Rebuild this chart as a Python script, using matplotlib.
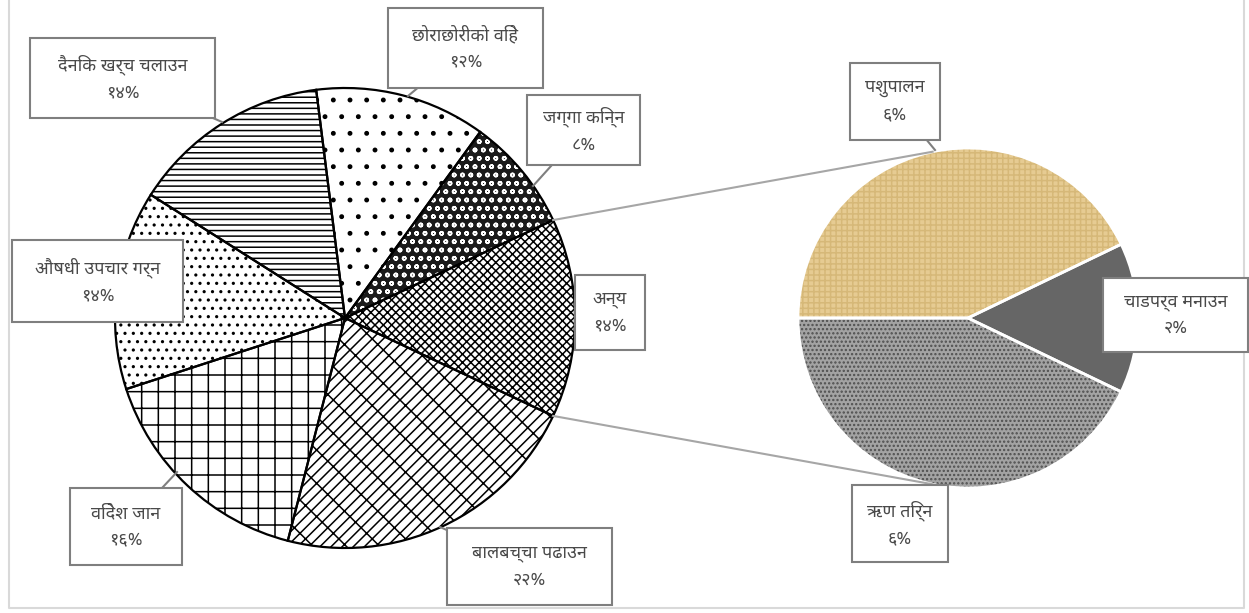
import matplotlib
matplotlib.use('Agg')
import matplotlib.pyplot as plt
from matplotlib.patches import Rectangle
import numpy as np

# fonts: Devanagari first, DejaVu for the rest
plt.rcParams['font.family'] = ['Noto Sans Devanagari', 'Noto Sans Devanagari UI', 'DejaVu Sans']
plt.rcParams['hatch.linewidth'] = 1.1

# DATA
# ---------------------------------------------------------
main_labels = ['छोराछोरीको विहे', 'जग्गा किन्न', 'अन्य', 'बालबच्चा पढाउन',
               'विदेश जान', 'औषधी उपचार गर्न', 'दैनिक खर्च चलाउन']
main_values = [12, 8, 14, 22, 16, 14, 14]
other_index = 2  # 'अन्य' is split into the small pie

sub_labels = ['पशुपालन', 'चाडपर्व मनाउन', 'ऋण तिर्न']
sub_values = [6, 2, 6]

# STYLE
# ---------------------------------------------------------
W, H = 1249, 613
main_fill = ['white', '#1a1a1a', 'white', 'white', 'white', 'white', 'white']
main_hatch = ['.', 'oo', 'xxxx', 'x//', '+', '..', '---']
main_hcol = ['black', 'white', 'black', 'black', 'black', 'black', 'black']

sub_fill = ['#e6cb92', '#666666', '#a3a3a3']
sub_hatch = ['+++', None, '....']
sub_hcol = ['#d6b878', '#666666', '#4f4f4f']

main_c, main_r = (345, 318), 230
sub_c, sub_r = (968, 318), 170

# label boxes (image px: x0, y0, x1, y1) and pointer tips
main_boxes = [(388, 8, 543, 88), (527, 95, 640, 165), (575, 275, 645, 350),
              (447, 528, 612, 605), (70, 488, 182, 565), (12, 240, 183, 322),
              (30, 38, 215, 118)]
main_tips = [(408, 96), (533, 186), (575, 318), (440, 527), (177, 472), None, (222, 122)]
sub_boxes = [(850, 63, 940, 140), (1103, 278, 1248, 352), (852, 485, 948, 562)]
sub_tips = [(935, 150), None, (935, 485)]


def Y(y):
    return H - y


def deva(n):
    return str(n).translate(str.maketrans('0123456789', '०१२३४५६७८९')) + '%'


fig = plt.figure(figsize=(W / 100, H / 100), dpi=100)
ax = fig.add_axes([0, 0, 1, 1])

# MAIN PIE
# ---------------------------------------------------------
total = sum(main_values)
start = 360 * (sum(main_values[:other_index]) + main_values[other_index] / 2) / total
mc = (main_c[0], Y(main_c[1]))
wedges, _ = ax.pie(main_values, startangle=start, counterclock=False, center=mc,
                   radius=main_r, colors=main_fill, wedgeprops=dict(linewidth=0))
for w, h, hc in zip(wedges, main_hatch, main_hcol):
    w.set_hatch(h)
    w.set_edgecolor(hc)
ax.pie(main_values, startangle=start, counterclock=False, center=mc, radius=main_r,
       wedgeprops=dict(fill=False, edgecolor='black', linewidth=1.6))

# SECONDARY PIE
# ---------------------------------------------------------
sc = (sub_c[0], Y(sub_c[1]))
swedges, _ = ax.pie(sub_values, startangle=180, counterclock=False, center=sc,
                    radius=sub_r, colors=sub_fill, wedgeprops=dict(linewidth=0))
for w, h, hc in zip(swedges, sub_hatch, sub_hcol):
    if h:
        w.set_hatch(h)
    w.set_edgecolor(hc)
ax.pie(sub_values, startangle=180, counterclock=False, center=sc, radius=sub_r,
       wedgeprops=dict(fill=False, edgecolor='white', linewidth=2))

# connector lines from the 'अन्य' slice to the small pie
half = np.deg2rad(180 * main_values[other_index] / total)
for s in (1, -1):
    x0 = mc[0] + main_r * np.cos(half)
    y0 = mc[1] + s * main_r * np.sin(half)
    a = np.deg2rad(s * 102)
    x1 = sc[0] + sub_r * np.cos(a)
    y1 = sc[1] + sub_r * np.sin(a)
    ax.plot([x0, x1], [y0, y1], color='#a6a6a6', lw=1.5, zorder=1)

# CALLOUTS
# ---------------------------------------------------------
def callout(box, tip, label, val):
    x0, y0, x1, y1 = box
    cx, cy = (x0 + x1) / 2, (y0 + y1) / 2
    if tip is not None:
        ax.plot([cx, tip[0]], [Y(cy), Y(tip[1])], color='#7f7f7f', lw=1.5, zorder=4)
    ax.add_patch(Rectangle((x0, Y(y1)), x1 - x0, y1 - y0, facecolor='white',
                           edgecolor='#7f7f7f', lw=1.5, zorder=5))
    ax.text(cx, Y(cy), label + '\n' + deva(val), ha='center', va='center',
            fontsize=13, color='#4a4a4a', linespacing=1.6, zorder=6)


for b, t, l, v in zip(main_boxes, main_tips, main_labels, main_values):
    callout(b, t, l, v)
for b, t, l, v in zip(sub_boxes, sub_tips, sub_labels, sub_values):
    callout(b, t, l, v)

# chart frame
ax.plot([9, 9, 1244, 1244], [Y(0), Y(608), Y(608), Y(0)], color='#d9d9d9', lw=1.5, zorder=0)

ax.set_xlim(0, W)
ax.set_ylim(0, H)
ax.axis('off')
fig.savefig('out.png', dpi=100)
